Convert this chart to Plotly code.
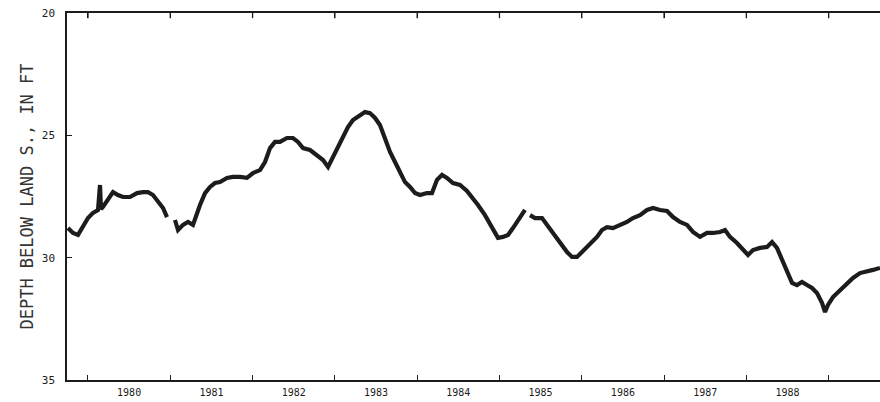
import plotly.graph_objects as go

# Decimal year of each reading (None marks a gap in the record)
years = [
    1979.757, 1979.818, 1979.879, 1979.939, 1980.000, 1980.061, 1980.122, 1980.146, 1980.158,
    1980.182, 1980.243, 1980.304, 1980.365, 1980.425, 1980.510, 1980.596, 1980.668, 1980.729,
    1980.790, 1980.851, 1980.912, 1980.960, 1981.010,
    1981.057, 1981.094, 1981.155, 1981.215, 1981.276, 1981.325, 1981.361, 1981.422, 1981.483,
    1981.543, 1981.604, 1981.689, 1981.762, 1981.847, 1981.932, 1982.005, 1982.090, 1982.151,
    1982.212, 1982.272, 1982.333, 1982.418, 1982.491, 1982.552, 1982.613, 1982.698, 1982.783,
    1982.856, 1982.917, 1982.977, 1983.038, 1983.099, 1983.159, 1983.220, 1983.305, 1983.366,
    1983.427, 1983.488, 1983.548, 1983.609, 1983.670, 1983.731, 1983.791, 1983.852, 1983.913,
    1983.974, 1984.034, 1984.119, 1984.180, 1984.241, 1984.302, 1984.362, 1984.435, 1984.520,
    1984.605, 1984.666, 1984.739, 1984.824, 1984.909, 1984.982, 1985.043, 1985.104, 1985.164,
    1985.225, 1985.310, 1985.340,
    1985.371, 1985.432, 1985.517, 1985.577, 1985.638, 1985.699, 1985.760, 1985.821, 1985.881,
    1985.942, 1986.003, 1986.064, 1986.125, 1986.185, 1986.246, 1986.306, 1986.379, 1986.464,
    1986.549, 1986.622, 1986.707, 1986.793, 1986.866, 1986.951, 1987.036, 1987.109, 1987.194,
    1987.279, 1987.352, 1987.437, 1987.522, 1987.595, 1987.680, 1987.741, 1987.801, 1987.886,
    1987.959, 1988.020, 1988.081, 1988.166, 1988.251, 1988.312, 1988.372, 1988.433, 1988.494,
    1988.555, 1988.615, 1988.676, 1988.737, 1988.798, 1988.858, 1988.919, 1988.956, 1988.992,
    1989.053, 1989.138, 1989.223, 1989.296, 1989.381, 1989.466, 1989.539, 1989.624,
]

# Depth below land surface, feet
depths = [
    28.79, 28.99, 29.07, 28.75, 28.38, 28.17, 28.05, 27.03, 28.01,
    27.93, 27.64, 27.32, 27.44, 27.52, 27.52, 27.36, 27.32, 27.32,
    27.44, 27.72, 27.97, 28.34, None,
    28.46, 28.87, 28.66, 28.54, 28.66, 28.13, 27.85, 27.36, 27.11,
    26.95, 26.91, 26.74, 26.70, 26.70, 26.74, 26.54, 26.42, 26.09,
    25.52, 25.27, 25.27, 25.11, 25.11, 25.27, 25.52, 25.60, 25.80,
    26.01, 26.29, 25.88, 25.39, 24.99, 24.66, 24.37, 24.17, 24.05,
    24.09, 24.29, 24.58, 25.11, 25.68, 26.09, 26.50, 26.91, 27.11,
    27.36, 27.44, 27.36, 27.36, 26.82, 26.62, 26.74, 26.95, 27.03,
    27.27, 27.52, 27.85, 28.26, 28.79, 29.19, 29.15, 29.07, 28.79,
    28.46, 28.05, None,
    28.26, 28.38, 28.38, 28.66, 28.95, 29.19, 29.48, 29.77, 29.97,
    29.97, 29.77, 29.56, 29.36, 29.15, 28.87, 28.75, 28.79, 28.66,
    28.54, 28.38, 28.26, 28.05, 27.97, 28.05, 28.09, 28.34, 28.54,
    28.66, 28.95, 29.15, 28.99, 28.99, 28.95, 28.87, 29.15, 29.40,
    29.69, 29.89, 29.69, 29.60, 29.56, 29.36, 29.60, 30.09, 30.63,
    31.03, 31.12, 30.99, 31.12, 31.24, 31.44, 31.85, 32.22, 31.93,
    31.61, 31.32, 31.03, 30.83, 30.63, 30.58, 30.50, 30.42,
]

year_labels = ["1980", "1981", "1982", "1983", "1984", "1985", "1986", "1987", "1988"]
year_label_pos = [1980.5, 1981.5, 1982.5, 1983.5, 1984.5, 1985.5, 1986.5, 1987.5, 1988.5]
year_bounds = [1980, 1981, 1982, 1983, 1984, 1985, 1986, 1987, 1988, 1989]
depth_ticks = [20, 25, 30, 35]
x_range = [1979.745, 1989.624]

font_main = "DejaVu Sans Mono"
ink = "#1c1c1c"

fig = go.Figure()
fig.add_trace(go.Scatter(
    x=years, y=depths, mode="lines",
    line=dict(color=ink, width=4.2),
    connectgaps=False, showlegend=False, hoverinfo="skip",
))
# placeholder (no visible mark) so the label axis is drawn
fig.add_trace(go.Scatter(x=[year_bounds[0]], y=[None], xaxis="x2", yaxis="y",
                         mode="lines", showlegend=False, hoverinfo="skip"))

# inward ticks along the top frame at each year boundary
for yb in year_bounds:
    fig.add_shape(type="line", xref="x", yref="paper",
                  x0=yb, x1=yb, y0=1.0, y1=0.986,
                  line=dict(color=ink, width=1.3))

fig.update_layout(
    width=880, height=402,
    margin=dict(l=67, r=0, t=13, b=22),
    paper_bgcolor="white", plot_bgcolor="white",
    font=dict(family=font_main, color=ink),
    # year-boundary ticks
    xaxis=dict(
        range=x_range,
        showgrid=False, zeroline=False,
        showline=True, linecolor=ink, linewidth=1.5, mirror="ticks",
        tickmode="array", tickvals=year_bounds,
        ticks="inside", ticklen=5, tickwidth=1.2, tickcolor=ink,
        showticklabels=False,
    ),
    # year labels centred in each year
    xaxis2=dict(
        overlaying="x", side="bottom", anchor="y", range=x_range,
        showgrid=False, zeroline=False, showline=False,
        tickmode="array", tickvals=year_label_pos, ticktext=year_labels,
        ticks="", tickfont=dict(size=10, family=font_main, color=ink),
        ticklabelstandoff=5,
    ),
    yaxis=dict(
        range=[35, 20],
        showgrid=False, zeroline=False,
        showline=True, linecolor=ink, linewidth=1.5, mirror=False,
        tickmode="array", tickvals=depth_ticks,
        ticks="inside", ticklen=5, tickwidth=1.2, tickcolor=ink,
        tickfont=dict(size=11, family=font_main, color=ink),
        ticklabelstandoff=8,
        title=dict(text="DEPTH BELOW LAND S., IN FT",
                   font=dict(size=17, family=font_main, color="#333333"), standoff=4),
    ),
)

fig.write_html("out.html")
